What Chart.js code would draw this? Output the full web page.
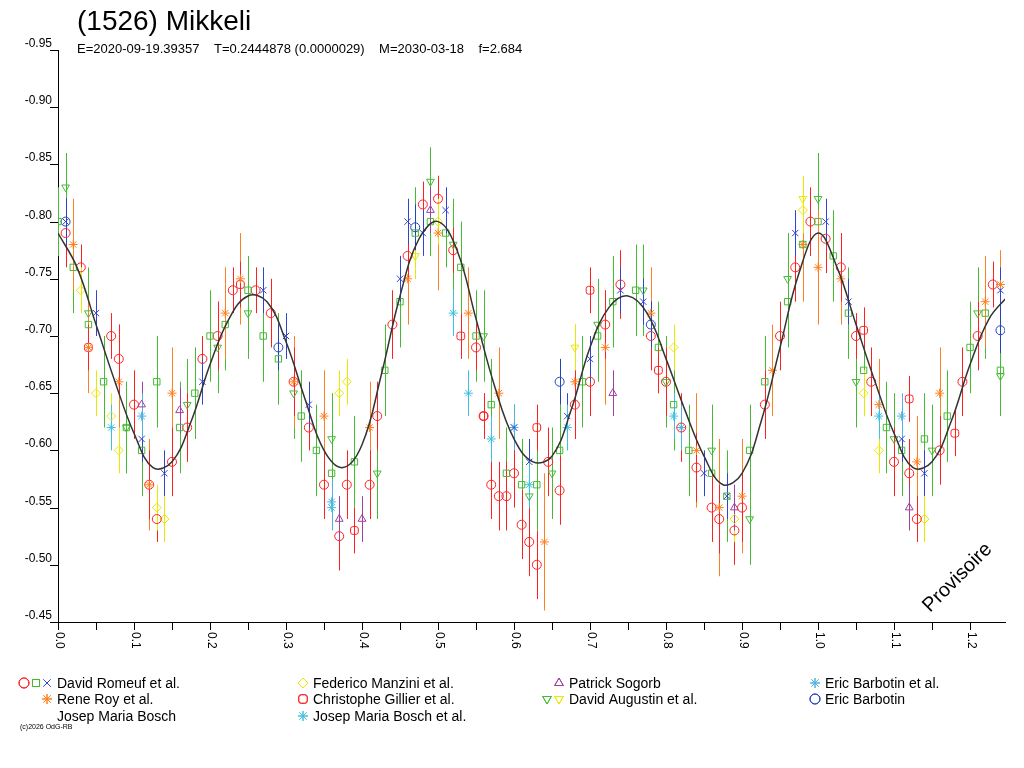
<!DOCTYPE html>
<html>
<head>
<meta charset="utf-8">
<script src="https://cdn.jsdelivr.net/npm/chart.js@4/dist/chart.umd.min.js"></script>
<style>body{margin:0;background:#fff}canvas{display:block}</style>
</head>
<body>
<canvas id="c" width="1024" height="768"></canvas>
<script>
// [phase, mag, err]
const romeufCircles = [[0.01,-0.79,0.03],[0.03,-0.76,0.02],[0.07,-0.70,0.02],[0.08,-0.68,0.03],[0.10,-0.64,0.03],[0.12,-0.57,0.03],[0.13,-0.54,0.02],[0.15,-0.59,0.03],[0.17,-0.62,0.03],[0.19,-0.68,0.02],[0.21,-0.70,0.03],[0.23,-0.74,0.02],[0.26,-0.74,0.02],[0.28,-0.72,0.03],[0.31,-0.66,0.03],[0.33,-0.62,0.02],[0.35,-0.57,0.03],[0.37,-0.525,0.03],[0.38,-0.57,0.03],[0.41,-0.57,0.03],[0.42,-0.63,0.03],[0.44,-0.71,0.03],[0.46,-0.77,0.02],[0.48,-0.815,0.02],[0.50,-0.82,0.02],[0.52,-0.775,0.02],[0.55,-0.69,0.02],[0.56,-0.63,0.02],[0.57,-0.57,0.03],[0.58,-0.56,0.03],[0.59,-0.56,0.03],[0.60,-0.58,0.03],[0.61,-0.535,0.03],[0.62,-0.52,0.03],[0.63,-0.50,0.03],[0.645,-0.59,0.03],[0.66,-0.565,0.03],[0.68,-0.64,0.03],[0.70,-0.66,0.03],[0.72,-0.71,0.03],[0.74,-0.745,0.03],[0.78,-0.70,0.03],[0.80,-0.66,0.03],[0.82,-0.62,0.03],[0.84,-0.585,0.03],[0.86,-0.55,0.03],[0.87,-0.54,0.03],[0.89,-0.53,0.03],[0.90,-0.55,0.03],[0.93,-0.64,0.03],[0.95,-0.70,0.03],[0.97,-0.76,0.03],[0.99,-0.80,0.03],[1.01,-0.785,0.03],[1.03,-0.76,0.03],[1.05,-0.70,0.02],[1.07,-0.66,0.03],[1.10,-0.59,0.03],[1.12,-0.58,0.03],[1.13,-0.54,0.02],[1.16,-0.60,0.03],[1.19,-0.66,0.03],[1.21,-0.70,0.03],[1.23,-0.745,0.02]];
const romeufSquares = [[0.00,-0.80,0.03],[0.02,-0.76,0.04],[0.04,-0.71,0.04],[0.06,-0.66,0.04],[0.09,-0.62,0.04],[0.11,-0.60,0.04],[0.13,-0.66,0.04],[0.16,-0.62,0.04],[0.18,-0.65,0.04],[0.20,-0.70,0.04],[0.22,-0.71,0.04],[0.25,-0.74,0.03],[0.27,-0.70,0.04],[0.29,-0.68,0.04],[0.32,-0.63,0.04],[0.34,-0.60,0.04],[0.36,-0.58,0.04],[0.39,-0.59,0.04],[0.43,-0.67,0.04],[0.45,-0.73,0.04],[0.47,-0.79,0.04],[0.49,-0.80,0.03],[0.51,-0.79,0.03],[0.53,-0.76,0.04],[0.55,-0.70,0.04],[0.57,-0.64,0.04],[0.59,-0.58,0.04],[0.61,-0.57,0.04],[0.63,-0.57,0.04],[0.66,-0.60,0.04],[0.69,-0.66,0.04],[0.71,-0.70,0.04],[0.73,-0.73,0.04],[0.76,-0.74,0.04],[0.79,-0.69,0.04],[0.81,-0.64,0.04],[0.83,-0.60,0.04],[0.86,-0.58,0.04],[0.88,-0.56,0.04],[0.91,-0.60,0.04],[0.93,-0.66,0.04],[0.96,-0.73,0.04],[0.98,-0.78,0.04],[1.00,-0.80,0.04],[1.02,-0.77,0.04],[1.04,-0.72,0.04],[1.06,-0.67,0.04],[1.09,-0.62,0.04],[1.11,-0.60,0.04],[1.14,-0.61,0.04],[1.17,-0.63,0.04],[1.20,-0.69,0.04],[1.22,-0.72,0.04],[1.24,-0.67,0.04]];
const romeufBlue = [[0.01,-0.80,0.02],[0.05,-0.72,0.02],[0.11,-0.61,0.02],[0.14,-0.58,0.02],[0.19,-0.66,0.02],[0.27,-0.74,0.02],[0.30,-0.70,0.02],[0.33,-0.64,0.02],[0.45,-0.75,0.02],[0.46,-0.80,0.02],[0.48,-0.79,0.02],[0.51,-0.81,0.02],[0.60,-0.62,0.02],[0.62,-0.59,0.02],[0.67,-0.63,0.02],[0.70,-0.68,0.02],[0.74,-0.74,0.02],[0.77,-0.73,0.02],[0.85,-0.58,0.02],[0.88,-0.56,0.02],[0.97,-0.79,0.02],[1.01,-0.80,0.02],[1.04,-0.73,0.02],[1.11,-0.61,0.02],[1.14,-0.58,0.02],[1.24,-0.74,0.02]];
const renyRoy = [[0.02,-0.78,0.04],[0.04,-0.69,0.04],[0.08,-0.66,0.05],[0.12,-0.57,0.04],[0.15,-0.65,0.04],[0.22,-0.72,0.04],[0.24,-0.75,0.04],[0.31,-0.66,0.04],[0.35,-0.63,0.04],[0.41,-0.62,0.04],[0.46,-0.75,0.04],[0.50,-0.79,0.05],[0.54,-0.72,0.04],[0.58,-0.65,0.04],[0.64,-0.52,0.06],[0.68,-0.66,0.05],[0.72,-0.69,0.05],[0.78,-0.72,0.04],[0.84,-0.60,0.05],[0.87,-0.55,0.06],[0.90,-0.56,0.05],[0.94,-0.67,0.04],[0.98,-0.78,0.05],[1.00,-0.76,0.05],[1.03,-0.75,0.04],[1.08,-0.64,0.04],[1.13,-0.59,0.04],[1.16,-0.65,0.04],[1.22,-0.73,0.04],[1.24,-0.745,0.03]];
const manzini = [[0.03,-0.74,0.02],[0.05,-0.65,0.02],[0.07,-0.63,0.02],[0.08,-0.60,0.02],[0.13,-0.55,0.02],[0.14,-0.54,0.02],[0.37,-0.65,0.02],[0.38,-0.66,0.02],[0.50,-0.80,0.02],[0.81,-0.69,0.02],[0.89,-0.54,0.02],[0.98,-0.81,0.02],[1.06,-0.65,0.02],[1.08,-0.60,0.02],[1.14,-0.54,0.02]];
const gillier = [[0.04,-0.69,0.02],[0.24,-0.745,0.02],[0.39,-0.53,0.02],[0.53,-0.70,0.02],[0.56,-0.63,0.02],[0.63,-0.62,0.02],[0.70,-0.74,0.02],[0.79,-0.67,0.02],[1.06,-0.705,0.02],[1.12,-0.645,0.02],[1.18,-0.615,0.02]];
const boschEtAl = [[0.07,-0.62,0.02],[0.36,-0.55,0.02],[0.52,-0.72,0.02],[0.54,-0.65,0.02],[0.57,-0.61,0.02],[0.62,-0.57,0.02],[0.67,-0.62,0.02],[0.81,-0.63,0.02],[1.08,-0.63,0.02]];
const sogorb = [[0.11,-0.64,0.02],[0.16,-0.635,0.02],[0.37,-0.54,0.02],[0.40,-0.54,0.02],[0.49,-0.81,0.02],[0.73,-0.65,0.02],[0.89,-0.55,0.02],[1.12,-0.55,0.02]];
const augustinGreen = [[0.01,-0.83,0.03],[0.04,-0.72,0.04],[0.09,-0.62,0.04],[0.17,-0.64,0.04],[0.21,-0.69,0.04],[0.25,-0.72,0.04],[0.31,-0.65,0.04],[0.36,-0.61,0.04],[0.42,-0.58,0.04],[0.49,-0.835,0.03],[0.52,-0.78,0.04],[0.56,-0.70,0.04],[0.62,-0.56,0.04],[0.65,-0.58,0.04],[0.71,-0.71,0.04],[0.77,-0.74,0.04],[0.80,-0.66,0.04],[0.86,-0.60,0.04],[0.91,-0.54,0.04],[0.96,-0.75,0.04],[1.00,-0.82,0.04],[1.05,-0.66,0.04],[1.10,-0.61,0.04],[1.15,-0.60,0.04],[1.21,-0.72,0.04],[1.24,-0.665,0.03]];
const augustinYellow = [[0.47,-0.77,0.02],[0.98,-0.82,0.02],[0.68,-0.69,0.02]];
const barbotinEtAl = [[0.11,-0.63,0.02],[0.36,-0.555,0.02],[0.60,-0.62,0.02],[0.82,-0.62,0.02],[1.11,-0.63,0.02]];
const barbotin = [[0.01,-0.80,0.02],[0.29,-0.69,0.02],[0.47,-0.795,0.02],[0.66,-0.66,0.02],[0.78,-0.71,0.02],[1.24,-0.705,0.02]];

const fitPhase = [0,0.025,0.05,0.075,0.1,0.125,0.15,0.175,0.2,0.225,0.25,0.275,0.3,0.325,0.35,0.375,0.4,0.425,0.45,0.475,0.5,0.525,0.55,0.575,0.6,0.625,0.65,0.675,0.7,0.725,0.75,0.775,0.8,0.825,0.85,0.875,0.9,0.925,0.95,0.975,1.0,1.025,1.05,1.075,1.1,1.125,1.15,1.175,1.2,1.225,1.25];
const fitMag = [-0.79,-0.76,-0.71,-0.66,-0.615,-0.585,-0.59,-0.625,-0.675,-0.715,-0.735,-0.73,-0.695,-0.645,-0.60,-0.585,-0.605,-0.665,-0.735,-0.785,-0.80,-0.775,-0.715,-0.655,-0.61,-0.59,-0.595,-0.635,-0.69,-0.725,-0.735,-0.72,-0.68,-0.635,-0.595,-0.57,-0.58,-0.625,-0.69,-0.755,-0.79,-0.76,-0.71,-0.66,-0.615,-0.585,-0.59,-0.625,-0.675,-0.715,-0.735];

const xTicks = [0.0,0.1,0.2,0.3,0.4,0.5,0.6,0.7,0.8,0.9,1.0,1.1,1.2];
const yTicks = [-0.95,-0.90,-0.85,-0.80,-0.75,-0.70,-0.65,-0.60,-0.55,-0.50,-0.45];

const pts = a => a.map(p => ({ x: p[0], y: p[1], e: p[2] }));
function series(data, color, style, rot) {
  return { type: "scatter", data: pts(data), borderColor: color, backgroundColor: "rgba(0,0,0,0)",
    pointStyle: style, pointRotation: rot || 0, pointRadius: 4.5, borderWidth: 1 };
}

const datasets = [
  { type: "line", data: fitPhase.map((x, i) => ({ x, y: fitMag[i] })), borderColor: "#333", borderWidth: 1.5,
    pointRadius: 0, tension: 0.4, fill: false, order: -1 },
  series(augustinGreen, "#44bb33", "triangle", 180),
  series(romeufSquares, "#44bb33", "rect"),
  series(renyRoy, "#ff8020", "star"),
  series(romeufCircles, "#ff2020", "circle"),
  series(romeufBlue, "#3344cc", "crossRot"),
  series(manzini, "#e8e800", "rectRot"),
  series(augustinYellow, "#e8e800", "triangle", 180),
  series(gillier, "#ff2020", "rectRounded"),
  series(boschEtAl, "#40c0e0", "star"),
  series(sogorb, "#a040a0", "triangle"),
  series(barbotinEtAl, "#50b0e0", "star"),
  series(barbotin, "#2244bb", "circle")
];

// barres d'erreur
const errorBars = {
  id: "errorBars",
  beforeDatasetsDraw(chart) {
    const { ctx, scales: { x, y } } = chart;
    ctx.save();
    chart.data.datasets.forEach(ds => {
      if (ds.type !== "scatter") return;
      ctx.strokeStyle = ds.borderColor;
      ctx.lineWidth = 1;
      ds.data.forEach(p => {
        const px = Math.round(x.getPixelForValue(p.x)) + 0.5;
        ctx.beginPath();
        ctx.moveTo(px, y.getPixelForValue(p.y - p.e));
        ctx.lineTo(px, y.getPixelForValue(p.y + p.e));
        ctx.stroke();
      });
    });
    ctx.restore();
  }
};

// axes, titres, légende
const decor = {
  id: "decor",
  afterDraw(chart) {
    const { ctx, scales: { x, y }, chartArea: a } = chart;
    ctx.save();
    ctx.strokeStyle = "#000";
    ctx.fillStyle = "#000";
    ctx.lineWidth = 1;
    ctx.font = "12px 'Liberation Sans', Arial";
    yTicks.forEach(v => {
      const py = Math.round(y.getPixelForValue(v)) + 0.5;
      ctx.beginPath(); ctx.moveTo(a.left - 8, py); ctx.lineTo(a.left, py); ctx.stroke();
      ctx.textAlign = "right"; ctx.textBaseline = "bottom";
      ctx.fillText(v.toFixed(2), a.left - 6, py - 1);
    });
    for (let v = 0; v <= 1.25; v += 0.05) {
      const px = Math.round(x.getPixelForValue(v)) + 0.5;
      ctx.beginPath(); ctx.moveTo(px, a.bottom); ctx.lineTo(px, a.bottom + 8); ctx.stroke();
    }
    xTicks.forEach(v => {
      const px = x.getPixelForValue(v);
      ctx.save();
      ctx.translate(px + 1, a.bottom + 10);
      ctx.rotate(Math.PI / 2);
      ctx.textAlign = "left"; ctx.textBaseline = "middle";
      ctx.fillText(v.toFixed(1), 0, 0);
      ctx.restore();
    });

    ctx.textAlign = "left"; ctx.textBaseline = "alphabetic";
    ctx.font = "28px 'Liberation Sans', Arial";
    ctx.fillText("(1526) Mikkeli", 77, 30);
    ctx.font = "13px 'Liberation Sans', Arial";
    ctx.fillText("E=2020-09-19.39357    T=0.2444878 (0.0000029)    M=2030-03-18    f=2.684", 77, 53);

    ctx.save();
    ctx.translate(930, 613);
    ctx.rotate(-Math.PI / 4);
    ctx.font = "20px 'Liberation Sans', Arial";
    ctx.fillText("Provisoire", 0, 0);
    ctx.restore();

    const legend = [
      [57, 688, "David Romeuf et al."], [57, 704, "Rene Roy et al."], [57, 721, "Josep Maria Bosch"],
      [313, 688, "Federico Manzini et al."], [313, 704, "Christophe Gillier et al."], [313, 721, "Josep Maria Bosch et al."],
      [569, 688, "Patrick Sogorb"], [569, 704, "David Augustin et al."],
      [825, 688, "Eric Barbotin et al."], [825, 704, "Eric Barbotin"]
    ];
    ctx.font = "14px 'Liberation Sans', Arial";
    legend.forEach(l => ctx.fillText(l[2], l[0], l[1]));
    const mk = (style, color, px, py, rot) => {
      ctx.strokeStyle = color;
      Chart.helpers.drawPoint(ctx, { pointStyle: style, radius: 5, rotation: rot || 0, borderWidth: 1 }, px, py);
      ctx.stroke();
    };
    ctx.fillStyle = "rgba(0,0,0,0)";
    mk("circle", "#ff2020", 24, 683); mk("rect", "#44bb33", 36, 683); mk("crossRot", "#3344cc", 47, 683);
    mk("star", "#ff8020", 47, 699);
    mk("rectRot", "#e8e800", 303, 683); mk("rectRounded", "#ff2020", 303, 699); mk("star", "#40c0e0", 303, 716);
    mk("triangle", "#a040a0", 559, 683);
    mk("triangle", "#44bb33", 547, 699, 180); mk("triangle", "#e8e800", 559, 699, 180);
    mk("star", "#50b0e0", 815, 683); mk("circle", "#2244bb", 815, 699);
    ctx.fillStyle = "#000";
    ctx.font = "7px 'Liberation Sans', Arial";
    ctx.fillText("(c)2026 OdG-RB", 20, 729);
    ctx.restore();
  }
};

new Chart(document.getElementById("c"), {
  data: { datasets },
  options: {
    responsive: false,
    animation: false,
    layout: { padding: { left: 50, top: 50, right: 19, bottom: 138 } },
    plugins: { legend: { display: false }, tooltip: { enabled: false } },
    scales: {
      x: { type: "linear", min: 0, max: 1.246, ticks: { display: false },
           grid: { display: false }, border: { display: true, color: "#000", width: 1 } },
      y: { type: "linear", min: -0.95, max: -0.45, reverse: true, ticks: { display: false },
           grid: { display: false }, border: { display: true, color: "#000", width: 1 } }
    }
  },
  plugins: [errorBars, decor]
});
</script>
</body>
</html>
